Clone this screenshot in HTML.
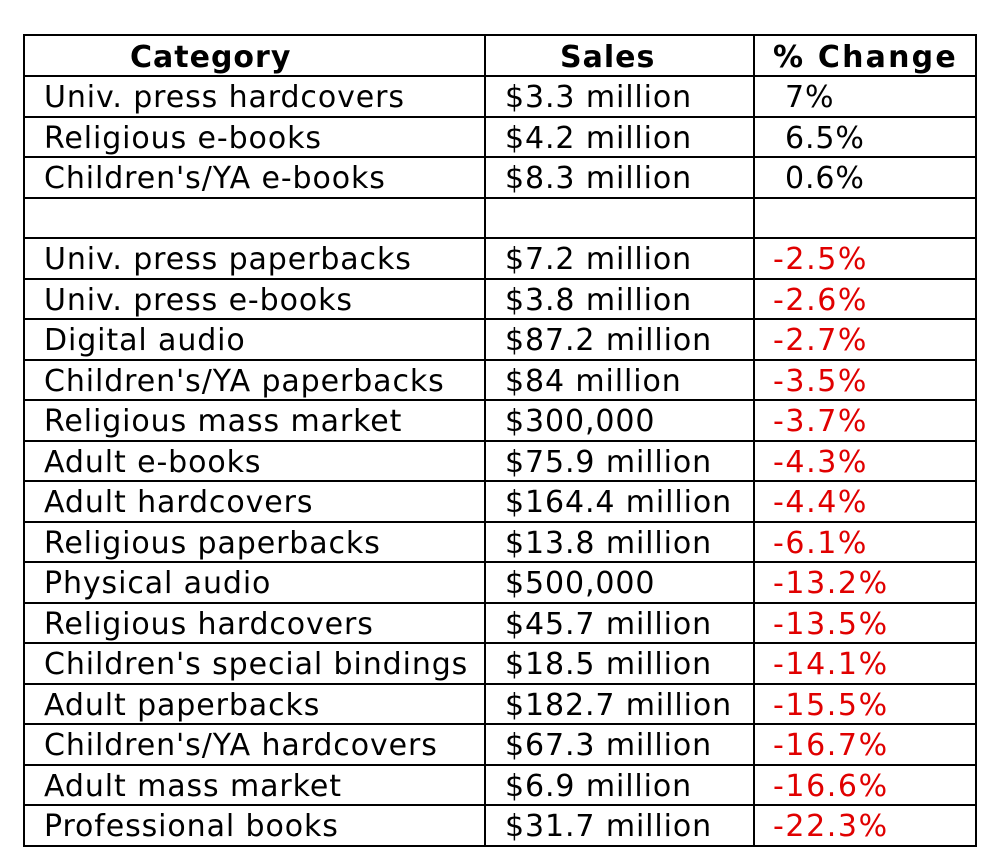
<!DOCTYPE html>
<html><head><style>
body{margin:0;width:994px;height:862px;background:#fff;position:relative;font-family:"DejaVu Sans","Liberation Sans",sans-serif;overflow:hidden}
.h,.v{position:absolute;background:#000}
.h{height:2px;left:23px;width:954px}
.v{width:2px;top:34px;height:812px}
.t{position:absolute;font-size:30px;letter-spacing:0.9px;line-height:40px;white-space:nowrap;color:#000}
.b{font-weight:bold;font-size:30px;letter-spacing:1px}
.r{color:#e00000;letter-spacing:1.6px}
</style></head><body>
<div id="c"></div>
<script>
var c=document.getElementById('c'),h='';
var rows=[["Univ. press hardcovers","$3.3 million","7%",0],["Religious e-books","$4.2 million","6.5%",0],["Children's/YA e-books","$8.3 million","0.6%",0],["","","",0],
["Univ. press paperbacks","$7.2 million","-2.5%",1],["Univ. press e-books","$3.8 million","-2.6%",1],["Digital audio","$87.2 million","-2.7%",1],["Children's/YA paperbacks","$84 million","-3.5%",1],["Religious mass market","$300,000","-3.7%",1],["Adult e-books","$75.9 million","-4.3%",1],["Adult hardcovers","$164.4 million","-4.4%",1],["Religious paperbacks","$13.8 million","-6.1%",1],["Physical audio","$500,000","-13.2%",1],["Religious hardcovers","$45.7 million","-13.5%",1],["Children's special bindings","$18.5 million","-14.1%",1],["Adult paperbacks","$182.7 million","-15.5%",1],["Children's/YA hardcovers","$67.3 million","-16.7%",1],["Adult mass market","$6.9 million","-16.6%",1],["Professional books","$31.7 million","-22.3%",1]];
h+='<div class="h" style="top:34px"></div><div class="h" style="top:75px"></div>';
h+='<div class="t b" style="left:130px;top:38px">Category</div><div class="t b" style="left:560px;top:38px">Sales</div><div class="t b" style="left:773px;top:38px;letter-spacing:2.2px">% Change</div>';
var p=(845-75)/19;
for(var i=0;i<19;i++){var y=75+p*i;var ty=Math.round(y+3);
h+='<div class="h" style="top:'+Math.round(y+p)+'px"></div>';
var r=rows[i];
h+='<div class="t" style="left:44px;top:'+ty+'px">'+r[0]+'</div>';
h+='<div class="t" style="left:505px;top:'+ty+'px">'+r[1]+'</div>';
h+='<div class="t'+(r[3]?' r':'')+'" style="left:'+(r[3]?773:785)+'px;top:'+ty+'px">'+r[2]+'</div>';}
h+='<div class="v" style="left:23px"></div><div class="v" style="left:484px"></div><div class="v" style="left:753px"></div><div class="v" style="left:975px"></div>';
c.innerHTML=h;
</script>
</body></html>
